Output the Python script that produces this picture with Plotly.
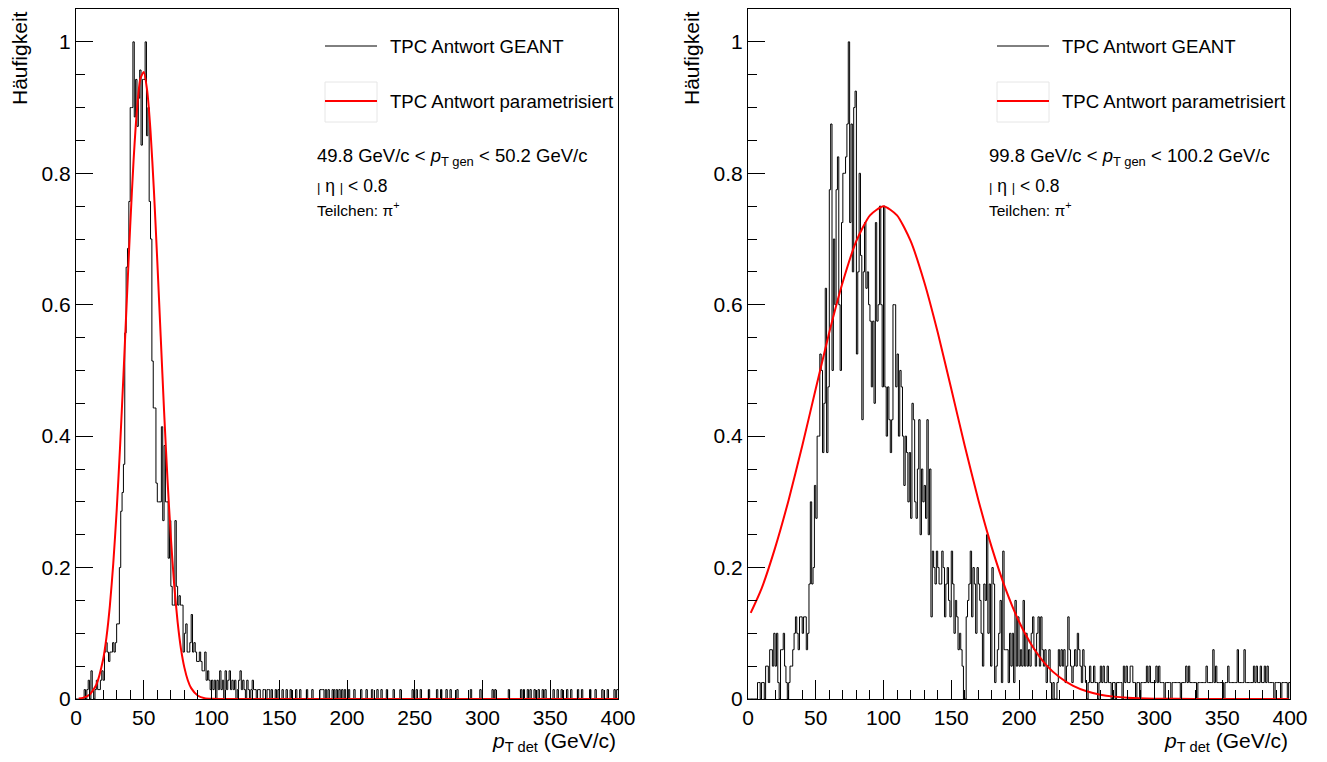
import plotly.graph_objects as go

W, H = 1327, 762

# ---------------- data ----------------
bin_edges = list(range(0, 401))  # 1 GeV/c bins from 0 to 400

# left panel (49.8 < pT gen < 50.2) : counts per bin, 0..149 GeV
left_counts_dense = [
    0, 0, 0, 0, 0, 0, 1, 0, 1, 2,
    0, 3, 1, 0, 1, 2, 1, 1, 2, 3,
    2, 5, 6, 5, 4, 5, 5, 6, 5, 6,
    8, 8, 14, 20, 22, 25, 39, 46, 48, 53,
    63, 63, 70, 62, 66, 61, 64, 67, 59, 66,
    66, 70, 60, 63, 53, 49, 36, 31, 31, 23,
    21, 21, 21, 29, 19, 27, 21, 21, 15, 19,
    12, 10, 10, 19, 12, 10, 11, 10, 10, 5,
    7, 8, 5, 5, 6, 9, 5, 6, 5, 4,
    4, 5, 4, 3, 3, 5, 2, 3, 2, 1,
    2, 1, 2, 0, 2, 1, 3, 1, 2, 0,
    3, 1, 2, 3, 1, 2, 1, 2, 0, 1,
    2, 3, 1, 2, 1, 0, 2, 1, 0, 1,
    2, 1, 1, 0, 1, 1, 0, 0, 1, 1,
    0, 1, 1, 0, 1, 0, 0, 1, 0, 1,
]
# left panel tail: bins (GeV/c) holding a single entry
left_tail_single_bins = [
    152, 155, 158, 162, 165, 170, 174, 180, 181, 182, 184, 186, 189, 190,
    192, 194, 196, 198, 201, 205, 210, 214, 218, 222, 225, 229, 234, 239,
    248, 251, 254, 260, 266, 269, 273, 276, 281, 291, 298, 307, 309, 319,
    328, 330, 333, 335, 338, 341, 344, 346, 352, 355, 358, 362, 365, 370,
    373, 379, 383, 388, 392, 397, 399,
]

# right panel (99.8 < pT gen < 100.2) : counts per bin, 0..399 GeV
right_counts = [
    0, 0, 0, 0, 0, 0, 0, 1, 1, 0,
    1, 1, 0, 2, 2, 1, 3, 3, 2, 4,
    2, 4, 1, 0, 3, 3, 4, 2, 1, 0,
    1, 2, 2, 3, 4, 5, 4, 3, 5, 5,
    4, 5, 5, 3, 4, 7, 12, 7, 8, 13,
    11, 16, 16, 21, 20, 15, 18, 25, 15, 19,
    31, 35, 20, 28, 24, 31, 33, 24, 20, 29,
    32, 32, 33, 35, 40, 29, 35, 26, 36, 37,
    21, 26, 32, 27, 17, 26, 29, 25, 26, 24,
    23, 19, 23, 18, 29, 23, 24, 30, 24, 19,
    30, 19, 16, 19, 17, 15, 17, 24, 24, 19,
    21, 16, 20, 19, 16, 13, 16, 15, 12, 15,
    11, 18, 17, 12, 11, 14, 17, 10, 14, 12,
    13, 11, 17, 10, 14, 5, 9, 8, 7, 9,
    8, 7, 7, 9, 8, 5, 7, 8, 6, 5,
    9, 7, 4, 6, 5, 3, 4, 3, 2, 0,
    0, 5, 6, 7, 9, 5, 8, 7, 4, 8,
    7, 6, 4, 2, 7, 6, 10, 4, 7, 2,
    8, 7, 1, 2, 3, 4, 6, 1, 9, 3,
    3, 3, 1, 4, 2, 4, 1, 6, 2, 5,
    2, 3, 2, 6, 2, 4, 2, 3, 2, 4,
    5, 3, 2, 4, 5, 2, 5, 3, 2, 3,
    1, 2, 3, 1, 0, 1, 0, 0, 1, 3,
    2, 3, 2, 3, 1, 2, 5, 3, 2, 1,
    2, 3, 2, 4, 3, 2, 1, 3, 2, 1,
    0, 1, 2, 1, 1, 2, 1, 1, 0, 1,
    2, 1, 2, 1, 1, 2, 1, 1, 0, 1,
    1, 0, 1, 1, 1, 1, 0, 2, 1, 2,
    1, 1, 2, 2, 1, 1, 0, 1, 1, 0,
    1, 1, 1, 1, 2, 1, 2, 1, 1, 1,
    1, 2, 1, 2, 1, 1, 1, 0, 1, 1,
    1, 1, 0, 1, 1, 1, 1, 1, 1, 0,
    1, 1, 1, 2, 1, 2, 1, 1, 1, 1,
    1, 0, 1, 1, 1, 1, 1, 1, 2, 1,
    1, 1, 1, 3, 1, 2, 1, 1, 1, 1,
    1, 0, 1, 1, 2, 1, 1, 1, 1, 1,
    1, 3, 1, 1, 1, 1, 3, 1, 1, 1,
    1, 1, 1, 2, 1, 2, 1, 1, 2, 1,
    1, 2, 1, 2, 1, 1, 1, 1, 0, 1,
    1, 1, 1, 0, 1, 1, 1, 1, 0, 1,
]

# parametrised TPC response (red curves)
left_curve_x = [2, 5, 10, 15, 20, 22.5, 25, 27.5, 30, 32.5, 35, 37.5, 40, 42.5,
                45, 47.5, 50, 52.5, 55, 57.5, 60, 62.5, 65, 67.5, 70, 72.5,
                75, 77.5, 80, 82.5, 85, 90, 95, 100, 110, 150, 200, 300, 400]
left_curve_y = [0.0007, 0.0017, 0.0066, 0.0217, 0.060, 0.094, 0.142, 0.206,
                0.286, 0.383, 0.492, 0.607, 0.720, 0.820, 0.897, 0.944, 0.954,
                0.926, 0.864, 0.774, 0.666, 0.552, 0.438, 0.335, 0.246, 0.173,
                0.117, 0.076, 0.0477, 0.0286, 0.0165, 0.0049, 0.0012, 0.0003,
                0.0, 0.0, 0.0, 0.0, 0.0]
right_curve_x = [2, 10, 20, 30, 40, 50, 60, 70, 80, 90, 100, 110, 120, 130,
                 140, 150, 160, 170, 180, 190, 200, 210, 220, 230, 240, 250,
                 260, 270, 280, 300, 330, 360, 399]
right_curve_y = [0.131, 0.168, 0.230, 0.303, 0.385, 0.472, 0.558, 0.635, 0.697,
                 0.736, 0.750, 0.736, 0.697, 0.635, 0.558, 0.472, 0.385, 0.303,
                 0.230, 0.168, 0.118, 0.080, 0.052, 0.033, 0.020, 0.0117,
                 0.0066, 0.0036, 0.0019, 0.0005, 0.0001, 0.0, 0.0]

x_tick_vals = [0, 50, 100, 150, 200, 250, 300, 350, 400]
y_tick_vals = [0, 0.2, 0.4, 0.6, 0.8, 1.0]
y_tick_text = ["0", "0.2", "0.4", "0.6", "0.8", "1"]

legend_labels = ["TPC Antwort GEANT", "TPC Antwort parametrisiert"]
BAR = "<span style='font-size:13px;color:#000000'>|</span>"
eta_line = BAR + " η " + BAR + " < 0.8"
info_left = ["49.8 GeV/c < <i>p</i><sub>T gen</sub> < 50.2 GeV/c", eta_line, "Teilchen: π<sup>+</sup>"]
info_right = ["99.8 GeV/c < <i>p</i><sub>T gen</sub> < 100.2 GeV/c", eta_line, "Teilchen: π<sup>+</sup>"]
x_title = "<i>p</i><sub>T det</sub> (GeV/c)"
y_title = "Häufigkeit"

# ---------------- build ----------------
left_counts = left_counts_dense + [0] * (400 - len(left_counts_dense))
for b in left_tail_single_bins:
    left_counts[b] = 1


def norm(c):
    m = max(c)
    v = [x / m for x in c]
    return v + [v[-1]]


FONT = "Liberation Sans, Arial, sans-serif"


def px(x):
    return x / W


def py(y):
    return 1 - y / H


fig = go.Figure()

panels = [
    dict(xa="x", ya="y", counts=left_counts, cx=left_curve_x, cy=left_curve_y, info=info_left, off=0),
    dict(xa="x2", ya="y2", counts=right_counts, cx=right_curve_x, cy=right_curve_y, info=info_right, off=672),
]

for p in panels:
    fig.add_trace(go.Scatter(x=bin_edges, y=norm(p["counts"]), mode="lines",
                             line=dict(color="black", width=1, shape="hv"),
                             xaxis=p["xa"], yaxis=p["ya"], showlegend=False, hoverinfo="skip"))
    fig.add_trace(go.Scatter(x=p["cx"], y=p["cy"], mode="lines",
                             line=dict(color="#ff0000", width=2, shape="spline", smoothing=0.6),
                             xaxis=p["xa"], yaxis=p["ya"], showlegend=False, hoverinfo="skip"))

x_dom_l = [px(76), px(618)]
x_dom_r = [px(748), px(1290)]
y_dom = [py(699), py(9)]

xcommon = dict(range=[0, 400], tickvals=x_tick_vals, ticks="inside", ticklen=19, tickwidth=1,
               tickcolor="black", showline=True, linecolor="black", linewidth=1, mirror=True,
               showgrid=False, zeroline=False, tickfont=dict(family=FONT, size=21, color="black"),
               minor=dict(dtick=10, ticks="inside", ticklen=9, tickcolor="black", tickwidth=1, showgrid=False),
               automargin=False, fixedrange=True)
ycommon = dict(range=[0, 1.05], tickvals=y_tick_vals, ticktext=y_tick_text, ticks="inside", ticklen=17,
               tickwidth=1, tickcolor="black", showline=True, linecolor="black", linewidth=1, mirror=True,
               showgrid=False, zeroline=False, tickfont=dict(family=FONT, size=21, color="black"),
               minor=dict(tick0=0, dtick=0.05, ticks="inside", ticklen=9, tickcolor="black", tickwidth=1, showgrid=False),
               automargin=False, fixedrange=True)

fig.update_layout(
    width=W, height=H, margin=dict(l=0, r=0, t=0, b=0),
    paper_bgcolor="white", plot_bgcolor="white", showlegend=False,
    font=dict(family=FONT, color="black"),
    xaxis=dict(domain=x_dom_l, anchor="y", **xcommon),
    yaxis=dict(domain=y_dom, anchor="x", **ycommon),
    xaxis2=dict(domain=x_dom_r, anchor="y2", **xcommon),
    yaxis2=dict(domain=y_dom, anchor="x2", **ycommon),
)

shapes = []
annotations = []
info_sizes = [18.5, 17.5, 15.5]
for p in panels:
    o = p["off"]
    # legend: GEANT line
    shapes.append(dict(type="line", xref="paper", yref="paper", x0=px(325 + o), x1=px(377 + o),
                       y0=py(46), y1=py(46), line=dict(color="black", width=1)))
    # legend: parametrised box + line
    shapes.append(dict(type="rect", xref="paper", yref="paper", x0=px(325 + o), x1=px(377 + o),
                       y0=py(122), y1=py(82), line=dict(color="#e6e6e6", width=1)))
    shapes.append(dict(type="line", xref="paper", yref="paper", x0=px(325 + o), x1=px(377 + o),
                       y0=py(101), y1=py(101), line=dict(color="#ff0000", width=2)))
    annotations.append(dict(text=legend_labels[0], x=px(388 + o), y=py(46), xref="paper", yref="paper",
                            xanchor="left", yanchor="middle", showarrow=False,
                            font=dict(family=FONT, size=18.6, color="black")))
    annotations.append(dict(text=legend_labels[1], x=px(388 + o), y=py(101), xref="paper", yref="paper",
                            xanchor="left", yanchor="middle", showarrow=False,
                            font=dict(family=FONT, size=18.6, color="black")))
    for txt, yy, fs in zip(p["info"], [157, 186, 209], info_sizes):
        annotations.append(dict(text=txt, x=px(315 + o), y=py(yy), xref="paper", yref="paper",
                                xanchor="left", yanchor="middle", showarrow=False,
                                font=dict(family=FONT, size=fs, color="black")))
    # axis titles
    annotations.append(dict(text=x_title, x=px(618 + o), y=py(742), xref="paper", yref="paper",
                            xanchor="right", yanchor="middle", showarrow=False,
                            font=dict(family=FONT, size=21, color="black")))
    annotations.append(dict(text=y_title, x=px(20 + o), y=py(9), xref="paper", yref="paper",
                            xanchor="center", yanchor="top", textangle=-90, showarrow=False,
                            font=dict(family=FONT, size=21, color="black")))

fig.update_layout(shapes=shapes, annotations=annotations)

fig.write_html("out.html")
